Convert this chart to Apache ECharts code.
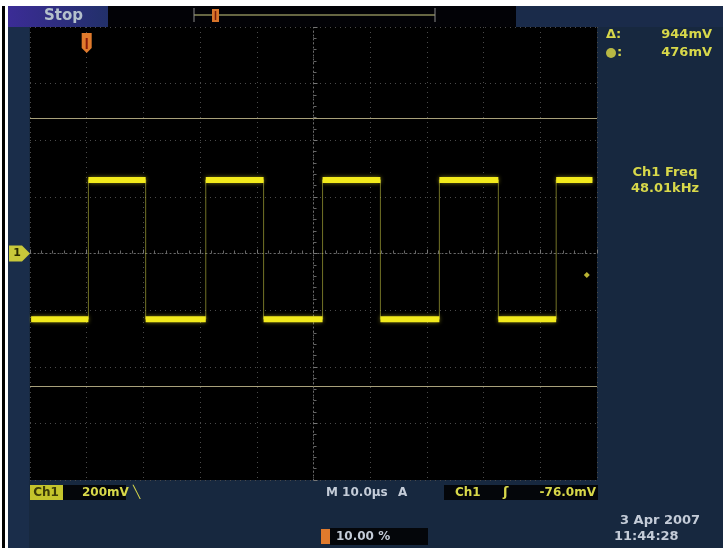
<!DOCTYPE html>
<html>
<head>
<meta charset="utf-8">
<script src="https://cdn.jsdelivr.net/npm/echarts/dist/echarts.min.js"></script>
<style>
  html, body { margin: 0; padding: 0; background: #fff; }
  #scope { width: 723px; height: 548px; }
</style>
</head>
<body>
<div id="scope"></div>
<script>
// time in us relative to screen centre, 10 us/div
var timeRange = [-50, 50];
// volts in mV, 200 mV/div
var voltRange = [-800, 800];
// edges of the square wave, starting low: rise, fall, rise, ...
var edgeTimes = [-39.7, -29.6, -19.0, -8.8, 1.6, 11.8, 22.2, 32.6, 42.8];
var traceStart = -49.8, traceEnd = 49.2;
var levels = [-232, 260]; // low, high
var cursorLevels = [476, -468];
var triggerLevel = -76;
var triggerTime = -40;

var readouts = {
    delta: "944mV",
    at: "476mV",
    freqLabel: "Ch1 Freq",
    freq: "48.01kHz"
};

var yellow = "#d8d84a";
var pale = "#c4ccd8";

var chart = echarts.init(document.getElementById('scope'));

function buildTrace() {
    var t = [traceStart].concat(edgeTimes).concat([traceEnd]);
    var wave = [], bars = [];
    for (var i = 0; i < t.length - 1; i++) {
        var v = levels[i % 2];
        wave.push([t[i], v], [t[i + 1], v]);
        bars.push([t[i], v], [t[i + 1], v], [(t[i] + t[i + 1]) / 2, '-']);
    }
    return {wave: wave, bars: bars};
}
var trace = buildTrace();

var option = {
    backgroundColor: '#17283f',
    animation: false,
    grid: {
        left: 30, top: 27, right: 126, bottom: 68,
        show: true, backgroundColor: '#000', borderWidth: 0
    },
    xAxis: {
        type: 'value', min: timeRange[0], max: timeRange[1], interval: 10,
        axisLabel: {show: false},
        axisLine: {show: true, onZero: true, lineStyle: {color: '#6a6a6a', type: [1, 3]}},
        axisTick: {show: true, inside: true, length: 4, lineStyle: {color: '#777'}},
        minorTick: {show: true, splitNumber: 5, length: 3, lineStyle: {color: '#666'}},
        splitLine: {show: true, lineStyle: {color: '#4a4a4a', type: [1, 4]}}
    },
    yAxis: {
        type: 'value', min: voltRange[0], max: voltRange[1], interval: 200,
        axisLabel: {show: false},
        axisLine: {show: true, onZero: true, lineStyle: {color: '#6a6a6a', type: [1, 3]}},
        axisTick: {show: true, inside: true, length: 4, lineStyle: {color: '#777'}},
        minorTick: {show: true, splitNumber: 5, length: 3, lineStyle: {color: '#666'}},
        splitLine: {show: true, lineStyle: {color: '#4a4a4a', type: [1, 4]}}
    },
    series: [
        {
            name: 'edges', type: 'line', data: trace.wave,
            showSymbol: false, silent: true,
            lineStyle: {color: 'rgba(210,210,70,0.55)', width: 1},
            markLine: {
                silent: true, symbol: 'none', label: {show: false},
                lineStyle: {color: '#a8a07a', width: 1, type: 'solid'},
                data: cursorLevels.map(function (v) { return {yAxis: v}; })
            }
        },
        {
            name: 'levels', type: 'line', data: trace.bars,
            showSymbol: false, silent: true, connectNulls: false,
            lineStyle: {color: '#f2ea1c', width: 6, cap: 'butt', shadowColor: 'rgba(240,230,40,0.5)', shadowBlur: 4}
        },
        {
            name: 'trig', type: 'scatter', data: [[timeRange[1] - 1.8, triggerLevel]],
            symbol: 'diamond', symbolSize: 6, silent: true,
            itemStyle: {color: '#e8e040'}
        }
    ]
};
chart.setOption(option);

var gy = chart.convertToPixel({yAxisIndex: 0}, 0);
var tx = chart.convertToPixel({xAxisIndex: 0}, triggerTime);

function txt(x, y, s, color, size, align) {
    return {
        type: 'text', x: x, y: y, z: 20,
        style: {
            text: s, fill: color, font: 'bold ' + (size || 13) + 'px "DejaVu Sans", sans-serif',
            align: align || 'left', verticalAlign: 'middle'
        }
    };
}
function box(x, y, w, h, color, z) {
    return {type: 'rect', z: z || 10, shape: {x: x, y: y, width: w, height: h}, style: {fill: color}};
}

chart.setOption({
    graphic: [
        // page border
        box(0, 0, 723, 6, '#ffffff', 30),
        box(0, 0, 8, 548, '#ffffff', 30),
        box(2, 6, 3, 542, '#000000', 31),
        // left strip
        box(8, 27, 21, 521, '#1a2d4a', 5),
        // top bar
        {
            type: 'rect', z: 10, shape: {x: 8, y: 6, width: 100, height: 21},
            style: {fill: new echarts.graphic.LinearGradient(0, 0, 1, 0, [
                {offset: 0, color: '#3b2c96'}, {offset: 1, color: '#22306a'}
            ])}
        },
        box(108, 6, 408, 21, '#020206', 10),
        box(516, 6, 207, 21, '#1a2b4a', 10),
        txt(44, 16, 'Stop', '#b4c0cc', 15),
        {type: 'line', z: 12, shape: {x1: 194, y1: 15, x2: 435, y2: 15}, style: {stroke: '#8a8a58', lineWidth: 1.5}},
        {type: 'line', z: 12, shape: {x1: 194, y1: 8, x2: 194, y2: 22}, style: {stroke: '#8a8a8a', lineWidth: 1}},
        {type: 'line', z: 12, shape: {x1: 435, y1: 8, x2: 435, y2: 22}, style: {stroke: '#8a8a8a', lineWidth: 1}},
        box(212, 9, 7, 13, '#d8742a', 13),
        {type: 'line', z: 14, shape: {x1: 215.5, y1: 11, x2: 215.5, y2: 20}, style: {stroke: '#7a1a08', lineWidth: 1.5}},
        // trigger position marker
        {
            type: 'polygon', z: 15,
            shape: {points: [[tx - 5, 33], [tx + 5, 33], [tx + 5, 48], [tx, 53], [tx - 5, 48]]},
            style: {fill: '#e07a2c'}
        },
        {type: 'line', z: 16, shape: {x1: tx, y1: 38, x2: tx, y2: 49}, style: {stroke: '#8a1a0a', lineWidth: 2}},
        // ground marker
        {
            type: 'polygon', z: 15,
            shape: {points: [[9, gy - 8], [22, gy - 8], [30, gy], [22, gy + 8], [9, gy + 8]]},
            style: {fill: '#c8c83a'}
        },
        txt(17, gy, '1', '#2a2a00', 11, 'center'),
        // right readouts
        txt(606, 35, '\u0394:', yellow, 13),
        txt(712, 35, readouts.delta, yellow, 13, 'right'),
        {type: 'circle', z: 20, shape: {cx: 611, cy: 53, r: 5}, style: {fill: '#b8b844'}},
        txt(617, 53, ':', yellow, 13),
        txt(712, 53, readouts.at, yellow, 13, 'right'),
        txt(665, 173, readouts.freqLabel, yellow, 13, 'center'),
        txt(665, 189, readouts.freq, yellow, 13, 'center'),
        // bottom row
        box(30, 485, 33, 15, '#c4c42c', 12),
        txt(46, 493, 'Ch1', '#3c3c08', 12, 'center'),
        box(63, 485, 63, 15, '#04060a', 12),
        txt(82, 493, '200mV \u2572', yellow, 12),
        txt(326, 493, 'M 10.0\u00b5s', pale, 12),
        txt(398, 493, 'A', pale, 12),
        box(444, 485, 154, 15, '#04060a', 12),
        txt(455, 493, 'Ch1', yellow, 12),
        txt(503, 493, '\u0283', yellow, 13),
        txt(596, 493, '-76.0mV', yellow, 12, 'right'),
        box(321, 529, 9, 15, '#e07a2c', 12),
        box(330, 528, 98, 17, '#04060a', 12),
        txt(336, 537, '10.00 %', pale, 12),
        txt(620, 521, '3 Apr 2007', pale, 13),
        txt(614, 537, '11:44:28', pale, 13)
    ]
});
</script>
</body>
</html>
